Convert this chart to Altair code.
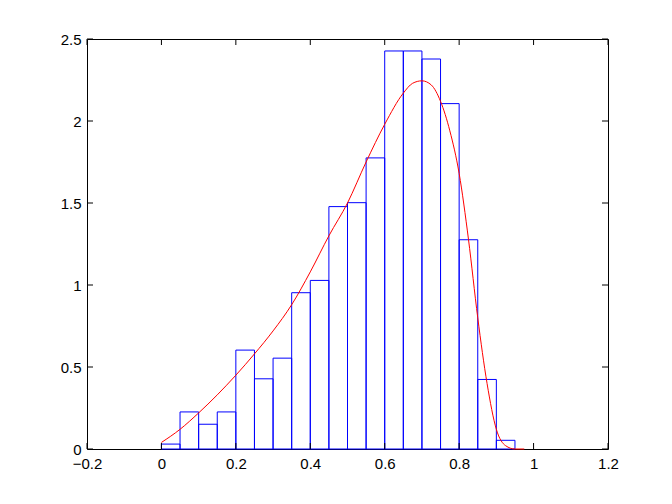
import altair as alt
import pandas as pd

# Histogram bins (density-normalised counts)
bin_start = [0.00, 0.05, 0.10, 0.15, 0.20, 0.25, 0.30, 0.35, 0.40, 0.45,
             0.50, 0.55, 0.60, 0.65, 0.70, 0.75, 0.80, 0.85, 0.90]
bin_width = 0.05
bin_height = [0.03, 0.226, 0.151, 0.226, 0.603, 0.428, 0.554, 0.953, 1.028, 1.478,
              1.502, 1.775, 2.427, 2.427, 2.378, 2.106, 1.276, 0.424, 0.053]

# Red density curve
curve_x = [0.0, 0.05, 0.1, 0.15, 0.2, 0.25, 0.3, 0.35, 0.4, 0.45, 0.5, 0.55,
           0.6, 0.65, 0.675, 0.7, 0.725, 0.75, 0.775, 0.8, 0.825, 0.85, 0.875,
           0.9, 0.925, 0.95, 0.975]
curve_y = [0.04, 0.12, 0.22, 0.33, 0.45, 0.58, 0.72, 0.88, 1.08, 1.30, 1.50, 1.75,
           1.98, 2.17, 2.23, 2.245, 2.22, 2.12, 1.94, 1.68, 1.28, 0.80, 0.40,
           0.12, 0.02, 0.0, 0.0]

x_ticks = [-0.2, 0.0, 0.2, 0.4, 0.6, 0.8, 1.0, 1.2]
y_ticks = [0.0, 0.5, 1.0, 1.5, 2.0, 2.5]

W, H = 521, 410
TICK = 6
FONT = "Liberation Sans"

bars = pd.DataFrame({
    "x0": bin_start,
    "x1": [b + bin_width for b in bin_start],
    "h": bin_height,
})
curve = pd.DataFrame({"x": curve_x, "y": curve_y})
xt = pd.DataFrame({"t": x_ticks})
yt = pd.DataFrame({"t": y_ticks})

xscale = alt.Scale(domain=[-0.2, 1.2], nice=False, zero=False)
yscale = alt.Scale(domain=[0, 2.5], nice=False)

xaxis = alt.Axis(values=x_ticks, format="~g", title=None, domain=False, ticks=False,
                 grid=False, labelFont=FONT, labelFontSize=15, labelColor="black",
                 labelPadding=7, labelFlush=False)
yaxis = alt.Axis(values=y_ticks, format="~g", title=None, domain=False, ticks=False,
                 grid=False, labelFont=FONT, labelFontSize=15, labelColor="black",
                 labelPadding=6)

hist = alt.Chart(bars).mark_rect(fillOpacity=0, stroke="#0000FF", strokeWidth=1).encode(
    x=alt.X("x0:Q", scale=xscale, axis=xaxis),
    x2="x1:Q",
    y=alt.Y("h:Q", scale=yscale, axis=yaxis),
    y2=alt.datum(0),
)

line = alt.Chart(curve).mark_line(color="#FF0000", strokeWidth=1, interpolate="monotone").encode(
    x=alt.X("x:Q", scale=xscale),
    y=alt.Y("y:Q", scale=yscale),
)

tick_style = dict(color="black", strokeWidth=1)
xt_bottom = alt.Chart(xt).mark_rule(**tick_style).encode(
    x=alt.X("t:Q", scale=xscale), y=alt.value(H), y2=alt.value(H - TICK))
xt_top = alt.Chart(xt).mark_rule(**tick_style).encode(
    x=alt.X("t:Q", scale=xscale), y=alt.value(0), y2=alt.value(TICK))
yt_left = alt.Chart(yt).mark_rule(**tick_style).encode(
    y=alt.Y("t:Q", scale=yscale), x=alt.value(0), x2=alt.value(TICK))
yt_right = alt.Chart(yt).mark_rule(**tick_style).encode(
    y=alt.Y("t:Q", scale=yscale), x=alt.value(W), x2=alt.value(W - TICK))

chart = alt.layer(hist, line, xt_bottom, xt_top, yt_left, yt_right).properties(
    width=W, height=H,
    autosize=alt.AutoSizeParams(type="none"),
    padding={"left": 79, "top": 31, "right": 56, "bottom": 47},
    background="white",
).configure_view(stroke="black", strokeWidth=1)

chart.save("out.html", embed_options={"renderer": "svg", "actions": False})
